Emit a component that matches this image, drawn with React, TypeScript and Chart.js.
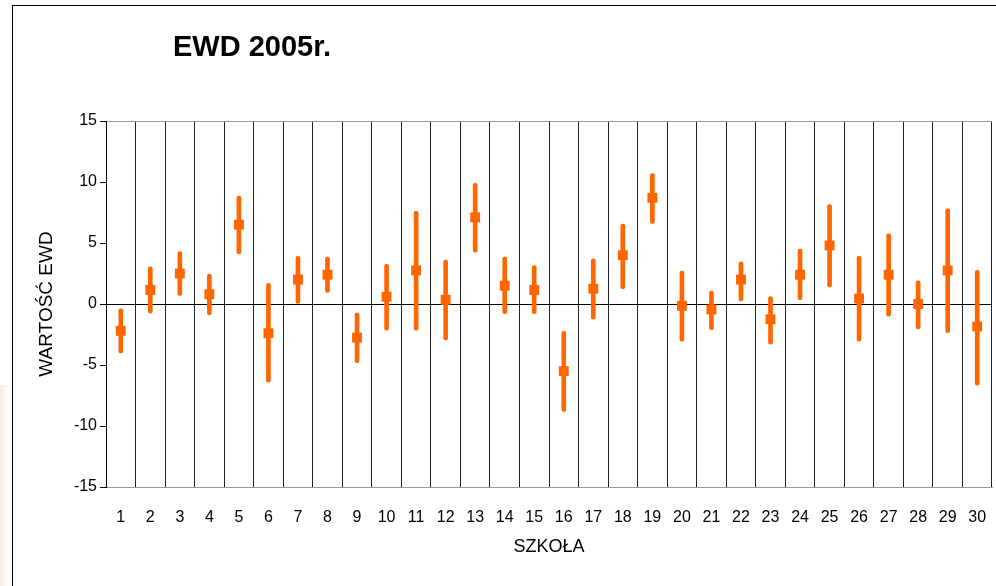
import React, { useEffect, useRef } from "react";
import { Chart, registerables } from "chart.js";

Chart.register(...registerables);

const schools = ["1","2","3","4","5","6","7","8","9","10","11","12","13","14","15","16","17","18","19","20","21","22","23","24","25","26","27","28","29","30"];
const ewdValues = [-2.2, 1.15, 2.5, 0.8, 6.5, -2.4, 2.0, 2.4, -2.75, 0.6, 2.75, 0.35, 7.1, 1.5, 1.15, -5.5, 1.25, 4.0, 8.7, -0.15, -0.45, 2.0, -1.25, 2.4, 4.8, 0.45, 2.4, 0.0, 2.75, -1.85];
const ewdLower = [-4.0, -0.75, 0.7, -0.9, 4.1, -6.4, 0.0, 0.95, -4.8, -2.15, -2.15, -2.95, 4.25, -0.8, -0.8, -8.8, -1.25, 1.25, 6.6, -3.05, -2.1, 0.25, -3.3, 0.35, 1.4, -3.05, -1.0, -2.05, -2.35, -6.65];
const ewdUpper = [-0.4, 3.05, 4.3, 2.45, 8.85, 1.7, 3.9, 3.85, -0.75, 3.25, 7.6, 3.6, 9.9, 3.85, 3.15, -2.25, 3.7, 6.55, 10.7, 2.7, 1.05, 3.45, 0.6, 4.5, 8.15, 3.9, 5.75, 1.9, 7.8, 2.75];
const yTicks = [-15, -10, -5, 0, 5, 10, 15];

const ORANGE = "#FF6600";
const FONT = "'Liberation Sans', Arial, sans-serif";

export default function App() {
  const ref = useRef<HTMLCanvasElement | null>(null);

  useEffect(() => {
    document.body.style.margin = "0";
    const canvas = ref.current;
    if (!canvas) return;
    Chart.defaults.font.family = FONT;
    Chart.defaults.color = "#000";
    const chart = new Chart(canvas, {
      type: "bar",
      data: {
        labels: schools,
        datasets: [
          {
            type: "line",
            label: "EWD",
            data: ewdValues,
            showLine: false,
            pointStyle: "rect",
            pointRadius: 7,
            pointBackgroundColor: ORANGE,
            pointBorderColor: ORANGE,
            pointBorderWidth: 0,
            order: 0,
          } as any,
          {
            type: "bar",
            label: "przedział",
            data: ewdLower.map((l, i) => [l, ewdUpper[i]]),
            backgroundColor: ORANGE,
            barThickness: 4,
            borderRadius: 2,
            borderSkipped: false,
            order: 1,
          } as any,
        ],
      },
      options: {
        animation: false,
        responsive: false,
        maintainAspectRatio: false,
        layout: { autoPadding: false, padding: { top: 121, right: 4, left: 0, bottom: 0 } },
        plugins: {
          legend: { display: false },
          tooltip: { enabled: false },
          title: { display: false },
        },
        scales: {
          x: {
            type: "category",
            offset: true,
            afterFit: (s: any) => { s.height = 99; s.paddingLeft = 0; s.paddingRight = 0; },
            grid: {
              offset: true,
              drawTicks: false,
              color: (ctx: any) => (ctx.index === schools.length ? "#888" : "#222"),
              lineWidth: 1,
            },
            border: { display: true, color: "#999" },
            ticks: {
              font: { size: 16, family: FONT },
              color: "#000",
              padding: 21,
              maxRotation: 0,
              autoSkip: false,
            },
            title: {
              display: true,
              text: "SZKOŁA",
              font: { size: 18, family: FONT },
              color: "#000",
              padding: { top: 28, bottom: 28 },
            },
          },
          y: {
            min: -15,
            max: 15,
            afterFit: (s: any) => { s.width = 106; s.paddingTop = 0; s.paddingBottom = 0; },
            afterBuildTicks: (s: any) => { s.ticks = yTicks.map((v) => ({ value: v })); },
            grid: {
              color: (ctx: any) => {
                const v = ctx.tick && ctx.tick.value;
                if (v === 0) return "#000";
                if (v === 15) return "#999";
                return "rgba(0,0,0,0)";
              },
              tickColor: "#000",
              tickLength: 6,
              lineWidth: 1,
            },
            border: { display: true, color: "#000" },
            ticks: {
              font: { size: 16, family: FONT },
              color: "#000",
              padding: 3,
            },
            title: {
              display: true,
              text: "WARTOŚĆ EWD",
              font: { size: 19, family: FONT },
              color: "#000",
              padding: { top: 35, bottom: 35 },
            },
          },
        },
      },
    });
    return () => chart.destroy();
  }, []);

  return (
    <div style={{ position: "absolute", left: 0, top: 0, width: 996, height: 586, overflow: "hidden", background: "#fff" }}>
      <div style={{ position: "absolute", left: 0, top: 385, width: 7, height: 201, background: "linear-gradient(to right, rgba(250,215,205,0.6), rgba(255,235,230,0.3))" }} />
      <div style={{ position: "absolute", left: 12, top: 5, width: 1100, height: 700, borderLeft: "1px solid #000", borderTop: "1px solid #000" }} />
      <canvas ref={ref} width={996} height={586} style={{ position: "absolute", left: 0, top: 0, width: 996, height: 586 }} />
      <div style={{ position: "absolute", left: 173, top: 29, fontFamily: FONT, fontWeight: "bold", fontSize: 29, lineHeight: "34px", color: "#000", whiteSpace: "nowrap" }}>EWD 2005r.</div>
    </div>
  );
}
